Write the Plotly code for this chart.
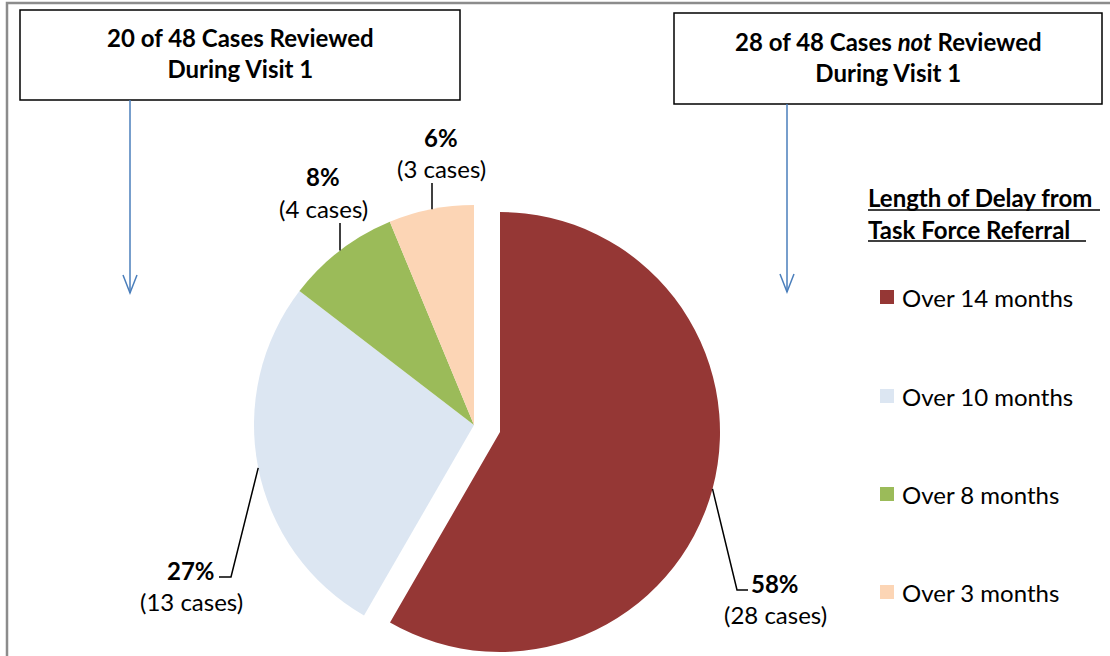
import math
import plotly.graph_objects as go

W, H = 1110, 656

categories = ["Over 14 months", "Over 10 months", "Over 8 months", "Over 3 months"]
cases = [28, 13, 4, 3]
colors = ["#953735", "#DCE6F2", "#9BBB59", "#FCD5B5"]
box_texts = ["<b>20 of 48 Cases Reviewed<br>During Visit 1</b>",
             "<b>28 of 48 Cases <i>not</i> Reviewed<br>During Visit 1</b>"]
legend_title = ["Length of Delay from", "Task Force Referral "]

FONT = "Lato"
FS = 24
total = sum(cases)


def X(px):
    return px / W


def Y(py):
    return 1 - py / H


# pie geometry (pixels)
R = 220
C_MAIN = (474, 425)     # centre of unpulled slices
C_PULL = (500, 432)     # centre of exploded slice


def dom(c):
    return dict(x=[X(c[0] - R), X(c[0] + R)], y=[Y(c[1] + R), Y(c[1] - R)])


fig = go.Figure()
fig.add_trace(go.Pie(
    values=cases, labels=categories, sort=False, direction="clockwise", rotation=0,
    marker=dict(colors=["rgba(0,0,0,0)"] + colors[1:], line=dict(width=0)),
    textinfo="none", domain=dom(C_MAIN), showlegend=False, hoverinfo="label+value"))
fig.add_trace(go.Pie(
    values=cases, labels=categories, sort=False, direction="clockwise", rotation=0,
    marker=dict(colors=[colors[0]] + ["rgba(0,0,0,0)"] * 3, line=dict(width=0)),
    textinfo="none", domain=dom(C_PULL), showlegend=False, hoverinfo="label+value"))

shapes = []
annotations = []

# outer frame (left and top edges)
shapes.append(dict(type="path", xref="paper", yref="paper",
                   path=f"M{X(7)},{Y(700)} L{X(7)},{Y(3)} L{X(1200)},{Y(3)}",
                   line=dict(color="#8c8c8c", width=2.5)))

# header boxes
boxes = [(20, 10, 460, 100), (674, 13, 1102, 104)]
for (x0, y0, x1, y1), txt in zip(boxes, box_texts):
    shapes.append(dict(type="rect", xref="paper", yref="paper",
                       x0=X(x0), x1=X(x1), y0=Y(y1), y1=Y(y0),
                       line=dict(color="black", width=1.5), fillcolor="white"))
    annotations.append(dict(xref="paper", yref="paper", x=X((x0 + x1) / 2), y=Y((y0 + y1) / 2 - 2),
                            text=txt, showarrow=False, align="center",
                            font=dict(family=FONT, size=FS, color="black"),
                            xanchor="center", yanchor="middle"))

# blue arrows
for ax, ytop, ybot in [(130, 100, 293), (787, 104, 292)]:
    shapes.append(dict(type="line", xref="paper", yref="paper",
                       x0=X(ax), x1=X(ax), y0=Y(ytop), y1=Y(ybot),
                       line=dict(color="#4A7EBB", width=1.5)))
    shapes.append(dict(type="path", xref="paper", yref="paper",
                       path=f"M{X(ax-7)},{Y(ybot-18)} L{X(ax)},{Y(ybot)} L{X(ax+7)},{Y(ybot-18)}",
                       line=dict(color="#4A7EBB", width=1.5)))

# slice angles
starts = []
acc = 0
for v in cases:
    starts.append(acc)
    acc += v
mids = [(s + v / 2) / total * 360 for s, v in zip(starts, cases)]


def edge(i):
    c = C_PULL if i == 0 else C_MAIN
    a = math.radians(mids[i])
    return c[0] + R * math.sin(a), c[1] - R * math.cos(a)


# data labels: (centre x, first-line y) and leader line start points (pixels)
label_pos = [(775, 583), (191, 570), (323, 177), (441, 137)]
leader_start = [[(748, 590), (737, 590)], [(219, 577), (231, 577)], [(340, 223)], [(432, 183)]]

for i, v in enumerate(cases):
    pct = round(v / total * 100)
    lx, ly = label_pos[i]
    annotations.append(dict(xref="paper", yref="paper", x=X(lx), y=Y(ly), text=f"<b>{pct}%</b>",
                            showarrow=False, xanchor="center", yanchor="middle",
                            font=dict(family=FONT, size=FS, color="black")))
    annotations.append(dict(xref="paper", yref="paper", x=X(lx), y=Y(ly + 31), text=f"({v} cases)",
                            showarrow=False, xanchor="center", yanchor="middle",
                            font=dict(family=FONT, size=FS, color="black")))
    ex, ey = edge(i)
    if len(leader_start[i]) == 2:
        pts = leader_start[i] + [(ex, ey)]
    else:
        px0, py0 = leader_start[i][0]
        pts = [(px0, py0), (px0, ey)]
    path = "M" + " L".join(f"{X(px)},{Y(py)}" for px, py in pts)
    shapes.append(dict(type="path", xref="paper", yref="paper", path=path,
                       line=dict(color="black", width=1.5)))

# legend title with underline
for txt, ty, ux1 in zip(legend_title, [198, 229], [1100, 1086]):
    annotations.append(dict(xref="paper", yref="paper", x=X(866), y=Y(ty), text=f"<b>{txt}</b>",
                            showarrow=False, xanchor="left", yanchor="middle",
                            font=dict(family=FONT, size=FS, color="black")))
    shapes.append(dict(type="line", xref="paper", yref="paper", x0=X(868), x1=X(ux1),
                       y0=Y(ty + 12), y1=Y(ty + 12), line=dict(color="black", width=1.5)))

# legend entries
leg_y = [297, 396, 494, 592]
for cat, col, ly in zip(categories, colors, leg_y):
    shapes.append(dict(type="rect", xref="paper", yref="paper", x0=X(880), x1=X(894),
                       y0=Y(ly + 7), y1=Y(ly - 7), fillcolor=col, line=dict(width=0)))
    annotations.append(dict(xref="paper", yref="paper", x=X(900), y=Y(ly), text=cat,
                            showarrow=False, xanchor="left", yanchor="middle",
                            font=dict(family=FONT, size=FS, color="black")))

fig.update_layout(width=W, height=H, margin=dict(l=0, r=0, t=0, b=0),
                  paper_bgcolor="white", plot_bgcolor="white",
                  shapes=shapes, annotations=annotations, showlegend=False)

fig.write_html("out.html", config={"displayModeBar": False},
               post_script="document.body.style.margin='0';document.body.style.overflow='hidden';")
